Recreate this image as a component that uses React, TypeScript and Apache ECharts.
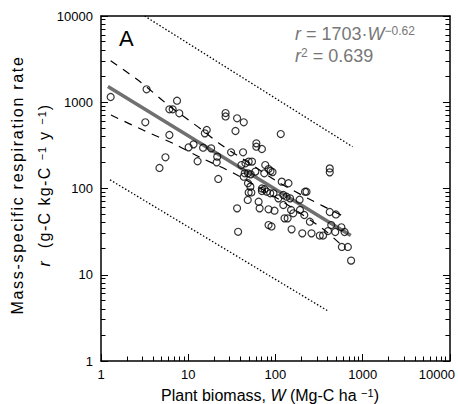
import React, { useEffect, useRef } from "react";
import * as echarts from "echarts";

const FONT = '"Liberation Sans", Arial, Helvetica, sans-serif';

// Observed stands: plant biomass W (Mg-C/ha) and mass-specific respiration r
const plantBiomassW = [
  1.29, 3.33, 3.22, 7.44, 6.08, 6.63, 7.9, 6.08, 4.68, 5.48,
  10.1, 11.5, 12.8, 14.8, 15.5, 16.3, 18.3, 21.5, 21.2, 22.1,
  26.8, 26.8, 36.3, 43.3, 34.8, 31.0, 42.5, 40.7, 45.3, 49.3,
  53.8, 60.4, 60.4, 69.9, 115, 44.4, 48.4, 52.0, 43.3, 48.4,
  51.6, 49.3, 52.9, 48.1, 36.3, 37.3, 76.4, 83.3, 87.7, 92.5,
  58.8, 74.4, 69.9, 69.9, 75, 79.6, 87.1, 94.9, 64.1, 65.8,
  83.3, 97.5, 83.3, 90.1, 118, 141, 123, 134, 147, 108,
  151, 160, 127, 138, 153, 191, 218, 227, 214, 248,
  259, 203, 322, 351, 400, 419, 419, 419, 493, 436,
  484, 570, 620, 577, 676, 736, 189, 123,
];
const respirationR = [
  1150, 1413, 586, 1042, 828, 828, 745, 417, 173, 230,
  300, 325, 207, 297, 436, 477, 292, 234, 201, 129,
  750, 684, 652, 586, 464, 263, 263, 187, 196, 205,
  205, 334, 305, 287, 428, 150, 150, 146, 137, 115,
  105, 90, 90, 73.6, 58.9, 31.5, 187, 168, 160, 155,
  157, 150, 100, 93.5, 98, 91.8, 88, 88, 70.3, 58.9,
  57.4, 55.3, 37.7, 36.3, 120, 115, 84.1, 80.3, 76.9, 76.9,
  56.4, 51.6, 45.1, 45.1, 33.6, 56.4, 91.8, 91.8, 49.3, 41.2,
  30.2, 30.2, 28.5, 28.5, 32.1, 171, 154, 53.4, 50, 37.7,
  31.3, 35.5, 31.3, 21.0, 21.0, 14.6, 74.2, 64.4,
];

// Fitted power law r = 1703 W^-0.62 (end points)
const fitW = [1.2, 730];
const fitR = [1521, 28.6];

// Confidence band (dashed)
const upperCIW = [1.29, 2.9, 6.08, 14.5, 22.5, 49.3, 103, 237, 593];
const upperCIR = [3033, 1686, 905, 476, 334, 199, 122, 76.6, 48.0];
const lowerCIW = [1.3, 3.03, 6.93, 13.9, 33.3, 108, 351, 593];
const lowerCIR = [711, 476, 328, 228, 150, 75.5, 33.9, 21.3];

// Outer (dotted) lines
const upperPIW = [3.16, 764];
const upperPIR = [10000, 305];
const lowerPIW = [1.27, 400];
const lowerPIR = [126, 3.8];

const axisMin = 1;
const axisMax = 10000;
const minorTicks = [
  2, 3, 4, 5, 6, 7, 8, 9,
  20, 30, 40, 50, 60, 70, 80, 90,
  200, 300, 400, 500, 600, 700, 800, 900,
  2000, 3000, 4000, 5000, 6000, 7000, 8000, 9000,
];

const zip = (a: number[], b: number[]) => a.map((v, i) => [v, b[i]]);

const spaced = (s: string, key: string) =>
  Array.from(s)
    .map((ch) => `{${key}|${ch}}`)
    .join("");

const crisp = (p: number) => Math.round(p - 0.5) + 0.5;

export default function App() {
  const ref = useRef<HTMLDivElement>(null);

  useEffect(() => {
    const chart = echarts.init(ref.current!, null, { renderer: "svg" });

    const logAxisBase = {
      type: "log" as const,
      logBase: 10,
      min: axisMin,
      max: axisMax,
      splitLine: { show: false },
      minorTick: { show: false },
    };

    const option: any = {
      animation: false,
      backgroundColor: "#fff",
      grid: { left: 101, right: 5, top: 16, bottom: 43 },
      xAxis: [
        {
          ...logAxisBase,
          position: "bottom",
          axisLine: { show: true, lineStyle: { color: "#000", width: 1.5 } },
          axisTick: { show: true, inside: true, length: 7, lineStyle: { color: "#000", width: 1 } },
          axisLabel: {
            color: "#000",
            fontSize: 13,
            fontFamily: FONT,
            margin: 7,
            formatter: (v: number) => {
              const s = String(Math.round(v));
              return Math.round(v) === axisMax ? `{r|${s}}` : s;
            },
            rich: { r: { fontSize: 13, fontFamily: FONT, color: "#000", padding: [0, 26, 0, 0] } },
          },
        },
        {
          ...logAxisBase,
          position: "top",
          axisLine: { show: true, lineStyle: { color: "#000", width: 1.5 } },
          axisTick: { show: false },
          axisLabel: { show: false },
        },
      ],
      yAxis: [
        {
          ...logAxisBase,
          position: "left",
          axisLine: { show: true, lineStyle: { color: "#000", width: 1.5 } },
          axisTick: { show: true, inside: true, length: 7, lineStyle: { color: "#000", width: 1 } },
          axisLabel: {
            color: "#000",
            fontSize: 13,
            fontFamily: FONT,
            margin: 8,
            formatter: (v: number) => String(Math.round(v)),
          },
        },
        {
          ...logAxisBase,
          position: "right",
          axisLine: { show: true, lineStyle: { color: "#000", width: 1.5 } },
          axisTick: { show: true, inside: true, length: 7, lineStyle: { color: "#000", width: 1 } },
          axisLabel: { show: false },
        },
      ],
      series: [
        {
          type: "custom",
          name: "minorTicks",
          coordinateSystem: "cartesian2d",
          xAxisIndex: 0,
          yAxisIndex: 0,
          silent: true,
          clip: false,
          z: 10,
          encode: { x: 0, y: 1 },
          data: minorTicks.map((v) => [v, v]),
          renderItem: (_params: any, api: any) => {
            const v = api.value(0);
            const b = api.coord([v, axisMin]);
            const l = api.coord([axisMin, v]);
            const r = api.coord([axisMax, v]);
            const st = { stroke: "#000", lineWidth: 1 };
            const bx = crisp(b[0]);
            const ly = crisp(l[1]);
            const ry = crisp(r[1]);
            return {
              type: "group",
              children: [
                { type: "line", shape: { x1: bx, y1: b[1], x2: bx, y2: b[1] - 4.5 }, style: st },
                { type: "line", shape: { x1: l[0], y1: ly, x2: l[0] + 4.5, y2: ly }, style: st },
                { type: "line", shape: { x1: r[0], y1: ry, x2: r[0] - 4.5, y2: ry }, style: st },
              ],
            };
          },
        },
        {
          type: "line",
          data: zip(upperPIW, upperPIR),
          symbol: "none",
          lineStyle: { color: "#000", width: 1.3, type: [1.5, 2] },
          z: 2,
        },
        {
          type: "line",
          data: zip(lowerPIW, lowerPIR),
          symbol: "none",
          lineStyle: { color: "#000", width: 1.3, type: [1.5, 2] },
          z: 2,
        },
        {
          type: "line",
          data: zip(upperCIW, upperCIR),
          symbol: "none",
          smooth: 0.3,
          lineStyle: { color: "#000", width: 1.2, type: [8, 7] },
          z: 2,
        },
        {
          type: "line",
          data: zip(lowerCIW, lowerCIR),
          symbol: "none",
          smooth: 0.3,
          lineStyle: { color: "#000", width: 1.2, type: [8, 7] },
          z: 2,
        },
        {
          type: "line",
          data: zip(fitW, fitR),
          symbol: "none",
          lineStyle: { color: "#707070", width: 3.5 },
          z: 3,
        },
        {
          type: "scatter",
          data: zip(plantBiomassW, respirationR),
          symbol: "circle",
          symbolSize: 7,
          itemStyle: { color: "rgba(0,0,0,0)", borderColor: "#000", borderWidth: 1.2 },
          z: 4,
        },
      ],
      graphic: [
        {
          type: "text",
          x: 119,
          y: 38,
          style: {
            text: "A",
            fontSize: 22,
            fontFamily: FONT,
            fill: "#000",
            align: "left",
            verticalAlign: "middle",
          },
        },
        {
          type: "text",
          x: 295,
          y: 34,
          style: {
            text: "{i|r} = 1703·{i|W}{s|−0.62}",
            fontSize: 18,
            fontFamily: FONT,
            fill: "#777",
            align: "left",
            verticalAlign: "middle",
            rich: {
              i: { fontSize: 18, fontFamily: FONT, fontStyle: "italic", fill: "#777" },
              s: { fontSize: 12, fontFamily: FONT, fill: "#777", verticalAlign: "top" },
            },
          },
        },
        {
          type: "text",
          x: 295,
          y: 56,
          style: {
            text: "{i|r}{s|2} = 0.639",
            fontSize: 18,
            fontFamily: FONT,
            fill: "#777",
            align: "left",
            verticalAlign: "middle",
            rich: {
              i: { fontSize: 18, fontFamily: FONT, fontStyle: "italic", fill: "#777" },
              s: { fontSize: 12, fontFamily: FONT, fill: "#777", verticalAlign: "top" },
            },
          },
        },
        {
          type: "text",
          x: 270,
          y: 395,
          style: {
            text: "Plant biomass, {i|W} (Mg-C ha {s|−1})",
            fontSize: 16,
            fontFamily: FONT,
            fill: "#000",
            align: "center",
            verticalAlign: "middle",
            rich: {
              i: { fontSize: 16, fontFamily: FONT, fontStyle: "italic", fill: "#000" },
              s: { fontSize: 11, fontFamily: FONT, fill: "#000", verticalAlign: "top" },
            },
          },
        },
        {
          type: "text",
          x: 17,
          y: 185,
          rotation: Math.PI / 2,
          style: {
            text: spaced("Mass-specific respiration rate", "c"),
            fontSize: 16,
            fontFamily: FONT,
            fill: "#000",
            align: "center",
            verticalAlign: "middle",
            rich: {
              c: { fontSize: 16, fontFamily: FONT, fill: "#000", padding: [0, 1.7, 0, 0] },
            },
          },
        },
        {
          type: "text",
          x: 44,
          y: 185,
          rotation: Math.PI / 2,
          style: {
            text:
              "{ci|r}" +
              spaced("  (g-C kg-C ", "c") +
              spaced("−1", "s") +
              spaced(" y ", "c") +
              spaced("−1", "s") +
              spaced(")", "c"),
            fontSize: 16,
            fontFamily: FONT,
            fill: "#000",
            align: "center",
            verticalAlign: "middle",
            rich: {
              c: { fontSize: 16, fontFamily: FONT, fill: "#000", padding: [0, 1.4, 0, 0] },
              ci: { fontSize: 16, fontFamily: FONT, fontStyle: "italic", fill: "#000", padding: [0, 1.4, 0, 0] },
              s: { fontSize: 11, fontFamily: FONT, fill: "#000", verticalAlign: "top", padding: [0, 1, 0, 0] },
            },
          },
        },
      ],
    };

    chart.setOption(option);
    return () => chart.dispose();
  }, []);

  return (
    <div
      ref={ref}
      style={{ position: "fixed", left: 0, top: 0, width: 458, height: 404, background: "#fff" }}
    />
  );
}
